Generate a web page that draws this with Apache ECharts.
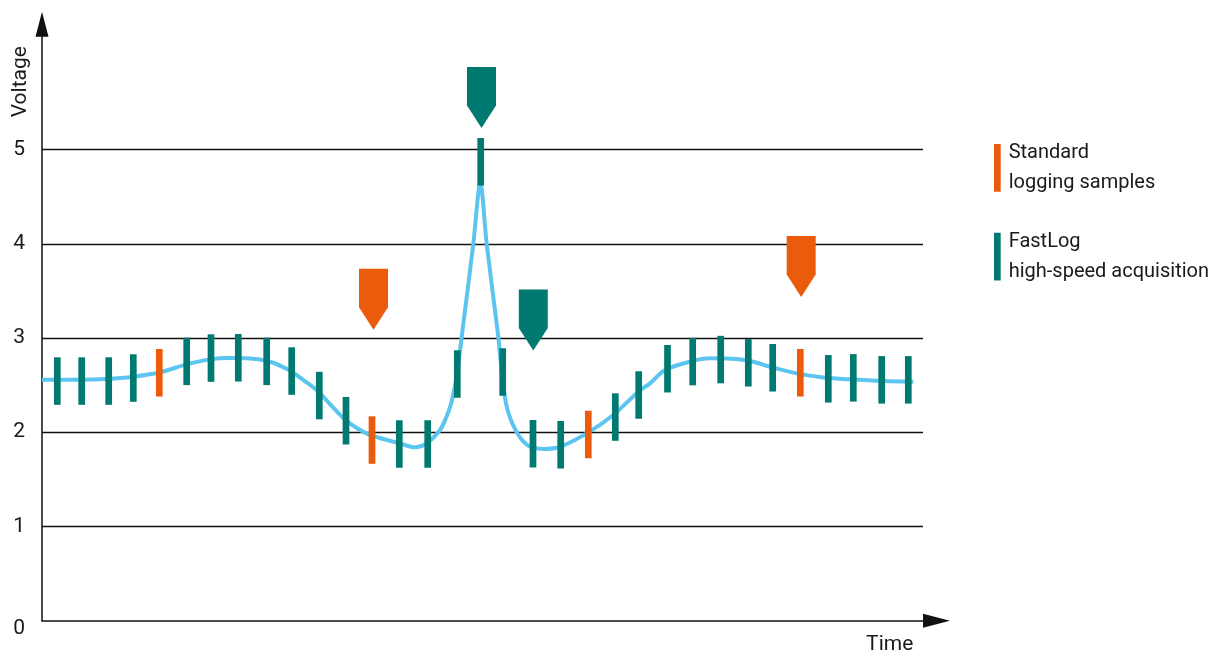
<!DOCTYPE html>
<html>
<head>
<meta charset="utf-8">
<script src="https://cdn.jsdelivr.net/npm/echarts@6/dist/echarts.min.js"></script>
<style>
html,body{margin:0;padding:0;background:#fff;}
#chart{width:1213px;height:654px;}
</style>
</head>
<body>
<div id="chart"></div>
<script>
// Time in arbitrary units, voltage in V
const curveTimes = [0, 1.8, 3.8, 6.47, 9.13, 11.8, 14.47, 16.8, 18.8, 20.47, 22.8, 24.8, 25.8, 27.47, 28.8, 30.13, 31.47, 33.0, 35.8, 37.3, 38.47, 39.8, 40.4, 40.9, 41.25, 41.52, 41.97, 43.13, 43.83, 44.47, 45.63, 45.85, 46.1, 46.3, 46.55, 46.85, 47.2, 47.6, 48.1, 48.8, 50.13, 51.8, 54.47, 57.13, 59.63, 60.8, 62.3, 64.8, 66.8, 69.47, 71.13, 72.8, 75.47, 78.13, 80.8, 84.13, 87.13];
const curveValues = [2.557, 2.557, 2.557, 2.565, 2.589, 2.636, 2.720, 2.773, 2.787, 2.784, 2.748, 2.655, 2.580, 2.448, 2.299, 2.151, 2.045, 1.963, 1.882, 1.840, 1.882, 2.023, 2.151, 2.299, 2.469, 2.628, 3.013, 3.997, 4.644, 3.997, 3.013, 2.768, 2.524, 2.365, 2.238, 2.142, 2.056, 1.976, 1.907, 1.846, 1.822, 1.846, 1.988, 2.183, 2.430, 2.519, 2.660, 2.748, 2.784, 2.777, 2.748, 2.695, 2.625, 2.582, 2.561, 2.543, 2.536];

const fastLogTimes = [1.53, 3.97, 6.67, 9.13, 14.47, 16.9, 19.63, 22.47, 24.97, 27.73, 30.4, 35.73, 38.57, 41.53, 43.87, 46.07, 49.1, 51.87, 57.33, 59.67, 62.55, 65.07, 67.87, 70.63, 73.07, 78.63, 81.13, 83.97, 86.63];
const fastLogValues = [2.543, 2.543, 2.543, 2.575, 2.752, 2.787, 2.790, 2.752, 2.649, 2.389, 2.122, 1.875, 1.875, 2.618, 4.870, 2.639, 1.878, 1.867, 2.161, 2.395, 2.674, 2.750, 2.771, 2.737, 2.684, 2.567, 2.577, 2.556, 2.556];

const standardTimes = [11.73, 33.0, 54.63, 75.83];
const standardValues = [2.631, 1.917, 1.976, 2.631];

const arrowTimes = [33.15, 43.95, 49.13, 75.92];
const arrowValues = [3.411, 5.551, 3.192, 3.758];
const arrowKinds = ['standard', 'fastlog', 'fastlog', 'standard'];

const yTickLabels = ['0', '1', '2', '3', '4', '5'];
const seriesNames = ['Standard\nlogging samples', 'FastLog\nhigh-speed acquisition'];

const TEAL = '#007a70';
const ORANGE = '#ea5b0c';
const BLUE = '#5bc5f0';
const FONT = "Roboto, 'Liberation Sans', sans-serif";

const zip = (a, b) => a.map((x, i) => [x, b[i]]);

const chart = echarts.init(document.getElementById('chart'), null, {renderer: 'canvas'});
chart.setOption({
  animation: false,
  backgroundColor: '#fff',
  grid: {left: 42, right: 290, top: 24.2, bottom: 33.3, containLabel: false, outerBoundsMode: 'none'},
  legend: {
    orient: 'vertical',
    left: 989,
    top: 132.9,
    itemGap: 28.7,
    itemWidth: 6.7,
    itemHeight: 47.7,
    selectedMode: false,
    data: seriesNames.map(n => ({name: n, icon: 'rect'})),
    textStyle: {fontFamily: FONT, fontSize: 20, lineHeight: 30, color: '#1a1a1a', padding: [0, 0, 0, 3]}
  },
  xAxis: {
    type: 'value', min: 0, max: 88.1,
    name: 'Time', nameLocation: 'end', nameGap: -33.3,
    nameTextStyle: {fontFamily: FONT, fontSize: 21, color: '#1a1a1a', align: 'center', verticalAlign: 'top', padding: [14, 0, 0, 0]},
    axisLine: {show: true, onZero: false, symbol: ['none', 'triangle'], symbolSize: [14, 27], symbolOffset: [0, 13.5], lineStyle: {color: '#111', width: 1.5}},
    axisTick: {show: false}, axisLabel: {show: false}, splitLine: {show: false}
  },
  yAxis: {
    type: 'value', min: 0, max: 6.33, interval: 1,
    name: 'Voltage', nameLocation: 'end', nameGap: -57.5, nameRotate: 90,
    nameTextStyle: {fontFamily: FONT, fontSize: 21, color: '#1a1a1a', align: 'center', verticalAlign: 'bottom', padding: [0, 0, 11, 0]},
    axisLine: {show: true, onZero: false, symbol: ['none', 'triangle'], symbolSize: [13, 25], lineStyle: {color: '#111', width: 1.5}},
    axisTick: {show: false},
    axisLabel: {
      margin: 17, fontFamily: FONT, fontSize: 21, color: '#1a1a1a',
      formatter: v => { const i = Math.round(v); if (Math.abs(v - i) > 1e-6 || i >= yTickLabels.length) return ''; return i === 0 ? '{z|' + yTickLabels[0] + '}' : yTickLabels[i]; },
      rich: {z: {fontFamily: FONT, fontSize: 21, color: '#1a1a1a', padding: [16, 0, 0, 0]}}
    },
    splitLine: {show: true, showMinLine: false, showMaxLine: false, lineStyle: {color: ['#111', '#111', '#111', '#111', '#111', 'rgba(0,0,0,0)', 'rgba(0,0,0,0)'], width: 1.3}}
  },
  series: [
    {
      type: 'line', name: 'signal', data: zip(curveTimes, curveValues), showSymbol: false, smooth: 0.3,
      lineStyle: {color: BLUE, width: 4}, z: 2, silent: true
    },
    {
      type: 'scatter', name: seriesNames[0], data: zip(standardTimes, standardValues),
      symbol: 'rect', symbolSize: [6.7, 47.5], itemStyle: {color: ORANGE, opacity: 1}, z: 3, silent: true
    },
    {
      type: 'scatter', name: seriesNames[1], data: zip(fastLogTimes, fastLogValues),
      symbol: 'rect', symbolSize: [6.7, 47.5], itemStyle: {color: TEAL, opacity: 1}, z: 3, silent: true
    },
    {
      type: 'scatter', name: 'markers',
      data: arrowTimes.map((t, i) => ({value: [t, arrowValues[i]], itemStyle: {color: arrowKinds[i] === 'standard' ? ORANGE : TEAL}})),
      symbol: 'path://M0,0L29,0L29,38.5L14.5,61L0,38.5Z', symbolSize: [29, 61], itemStyle: {opacity: 1}, z: 4, silent: true
    }
  ]
});
</script>
</body>
</html>
